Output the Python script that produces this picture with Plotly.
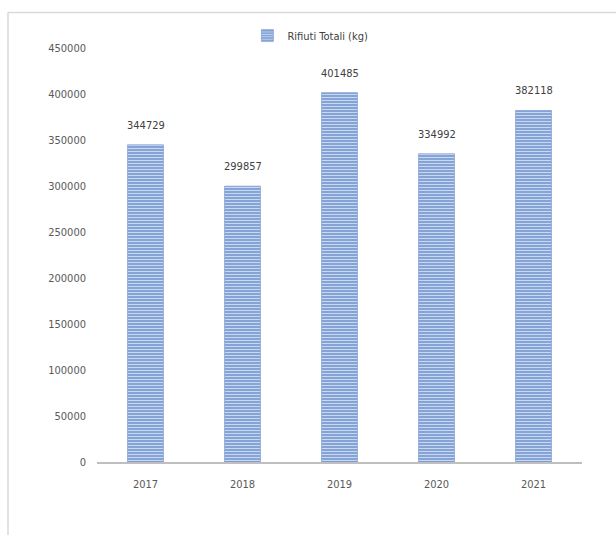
import plotly.graph_objects as go

years = ["2017", "2018", "2019", "2020", "2021"]
rifiuti_kg = [344729, 299857, 401485, 334992, 382118]
series_name = "Rifiuti Totali (kg)"
y_ticks = [0, 50000, 100000, 150000, 200000, 250000, 300000, 350000, 400000, 450000]

FONT = "DejaVu Sans Condensed, Liberation Sans Narrow, sans-serif"

fig = go.Figure()
fig.add_trace(go.Bar(
    x=years,
    y=rifiuti_kg,
    name=series_name,
    marker=dict(
        color="#7898d0",
        line=dict(color="#7091cb", width=0.6),
        pattern=dict(shape="-", fgcolor="#c8d8f2", bgcolor="#7898d0",
                     size=3, solidity=0.45, fillmode="replace"),
    ),
    showlegend=True,
))

# value labels sitting above each bar (x given as category index)
annotations = [
    dict(x=i, y=v, xref="x", yref="y", text=str(v), showarrow=False,
         yanchor="bottom", yshift=11,
         font=dict(family=FONT, size=11, color="#404040"))
    for i, v in enumerate(rifiuti_kg)
]

fig.update_layout(
    width=616,
    height=535,
    margin=dict(l=97, r=34, t=48, b=73),
    paper_bgcolor="white",
    plot_bgcolor="white",
    bargap=0.63,
    font=dict(family=FONT, size=11, color="#595959"),
    legend=dict(
        orientation="h",
        x=0.44, xanchor="center",
        y=1.03, yanchor="middle",
        font=dict(family=FONT, size=11, color="#404040"),
        itemwidth=30,
        bgcolor="rgba(0,0,0,0)",
    ),
    xaxis=dict(
        type="category",
        range=[-0.5, len(years) - 0.5],
        showgrid=False,
        showline=True,
        linecolor="#bfbfbf",
        linewidth=2,
        ticks="",
        ticklabelstandoff=11,
        tickfont=dict(family=FONT, size=11, color="#595959"),
    ),
    yaxis=dict(
        range=[0, 450000],
        tickvals=y_ticks,
        ticktext=[str(v) for v in y_ticks],
        showgrid=False,
        zeroline=False,
        showline=False,
        ticks="",
        ticklabelstandoff=10,
        tickfont=dict(family=FONT, size=11, color="#595959"),
    ),
    annotations=annotations,
    shapes=[
        dict(type="line", xref="paper", yref="paper",
             x0=(8 - 97) / 485, x1=1.1, y0=(462 - 12.5) / 414, y1=(462 - 12.5) / 414,
             line=dict(color="#d9d9d9", width=1.5)),
        dict(type="line", xref="paper", yref="paper",
             x0=(8 - 97) / 485, x1=(8 - 97) / 485, y0=(462 - 12.5) / 414, y1=-0.3,
             line=dict(color="#d9d9d9", width=1.5)),
    ],
)

fig.write_html("out.html")
